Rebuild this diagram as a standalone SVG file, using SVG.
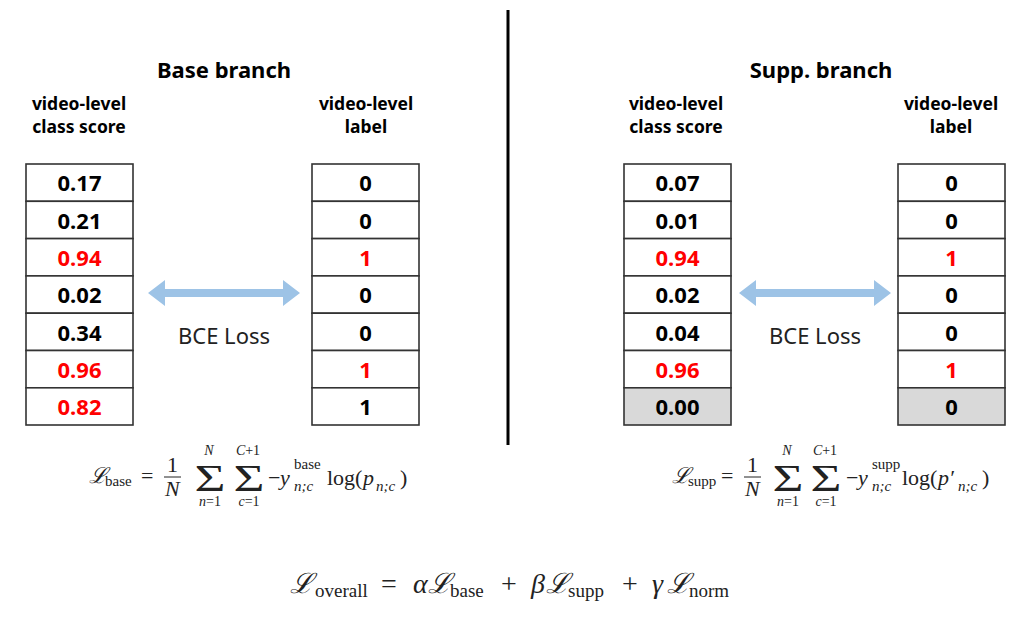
<svg xmlns="http://www.w3.org/2000/svg" width="1024" height="624" viewBox="0 0 1024 624">
<style>
.h{font-family:"Noto Sans","Open Sans",sans-serif;font-weight:bold;font-size:22px;text-anchor:middle;fill:#000}
.lab{font-family:"Noto Sans","Open Sans",sans-serif;font-weight:bold;font-size:17.5px;text-anchor:middle;fill:#000}
.num{font-family:"Noto Sans","Open Sans",sans-serif;font-weight:bold;font-size:22px;text-anchor:middle;fill:#000}
.red{fill:#ff0000}
.cell{fill:#fff;stroke:#333;stroke-width:1.6}
.gray{fill:#d9d9d9}
.bce{font-family:"Noto Sans","Open Sans",sans-serif;font-size:22px;text-anchor:middle;fill:#222}
.m{font-family:"Liberation Serif","DejaVu Serif",serif;font-size:22px;fill:#222}
.mi{font-family:"Liberation Serif","DejaVu Serif",serif;font-style:italic;font-size:22px;fill:#222}
.ms{font-family:"Liberation Serif","DejaVu Serif",serif;font-size:15px;fill:#222}
.msi{font-family:"Liberation Serif","DejaVu Serif",serif;font-style:italic;font-size:15px;fill:#222}
.lim{font-family:"Liberation Serif","DejaVu Serif",serif;font-size:14px;fill:#222;text-anchor:middle}
.sig{font-family:"Liberation Serif","DejaVu Serif",serif;font-size:38px;fill:#222;text-anchor:middle}
.big{font-family:"Liberation Serif","DejaVu Serif",serif;font-size:28px;fill:#222}
.bigi{font-family:"Liberation Serif","DejaVu Serif",serif;font-style:italic;font-size:28px;fill:#222}
.sub{font-family:"Liberation Serif","DejaVu Serif",serif;font-size:19px;fill:#222}
.arrow{fill:#9dc3e6}
</style>
<line x1="508" y1="10" x2="508" y2="445" stroke="#000" stroke-width="3"/>
<g id="base-branch">
<text class="h" x="224" y="78">Base branch</text>
<text class="lab" x="79" y="110">video-level</text>
<text class="lab" x="79" y="133">class score</text>
<text class="lab" x="366" y="110">video-level</text>
<text class="lab" x="366" y="133">label</text>
</g>
<g id="base-scores">
<rect class="cell" x="26" y="164" width="107" height="37.3"/>
<rect class="cell" x="26" y="201.3" width="107" height="37.3"/>
<rect class="cell" x="26" y="238.6" width="107" height="37.3"/>
<rect class="cell" x="26" y="275.9" width="107" height="37.3"/>
<rect class="cell" x="26" y="313.2" width="107" height="37.3"/>
<rect class="cell" x="26" y="350.5" width="107" height="37.3"/>
<rect class="cell" x="26" y="387.8" width="107" height="37.2"/>
<text class="num" x="79.5" y="191">0.17</text>
<text class="num" x="79.5" y="228.5">0.21</text>
<text class="num red" x="79.5" y="266">0.94</text>
<text class="num" x="79.5" y="303">0.02</text>
<text class="num" x="79.5" y="340.5">0.34</text>
<text class="num red" x="79.5" y="378">0.96</text>
<text class="num red" x="79.5" y="415">0.82</text>
</g>
<g id="base-labels">
<rect class="cell" x="312" y="164" width="107" height="37.3"/>
<rect class="cell" x="312" y="201.3" width="107" height="37.3"/>
<rect class="cell" x="312" y="238.6" width="107" height="37.3"/>
<rect class="cell" x="312" y="275.9" width="107" height="37.3"/>
<rect class="cell" x="312" y="313.2" width="107" height="37.3"/>
<rect class="cell" x="312" y="350.5" width="107" height="37.3"/>
<rect class="cell" x="312" y="387.8" width="107" height="37.2"/>
<text class="num" x="365.5" y="191">0</text>
<text class="num" x="365.5" y="228.5">0</text>
<text class="num red" x="365.5" y="266">1</text>
<text class="num" x="365.5" y="303">0</text>
<text class="num" x="365.5" y="340.5">0</text>
<text class="num red" x="365.5" y="378">1</text>
<text class="num" x="365.5" y="415">1</text>
</g>
<g id="connectors">
<polygon class="arrow" points="148,293 165,280 165,289 283,289 283,280 300,293 283,306 283,297 165,297 165,306"/>
<polygon class="arrow" points="739,293 756,280 756,289 874,289 874,280 891,293 874,306 874,297 756,297 756,306"/>
</g>
<text class="bce" x="224" y="344">BCE Loss</text>
<text class="bce" x="815" y="344">BCE Loss</text>
<g id="supp-branch">
<text class="h" x="821" y="78">Supp. branch</text>
<text class="lab" x="676" y="110">video-level</text>
<text class="lab" x="676" y="133">class score</text>
<text class="lab" x="951" y="110">video-level</text>
<text class="lab" x="951" y="133">label</text>
</g>
<g id="supp-scores">
<rect class="cell" x="624" y="164" width="107" height="37.3"/>
<rect class="cell" x="624" y="201.3" width="107" height="37.3"/>
<rect class="cell" x="624" y="238.6" width="107" height="37.3"/>
<rect class="cell" x="624" y="275.9" width="107" height="37.3"/>
<rect class="cell" x="624" y="313.2" width="107" height="37.3"/>
<rect class="cell" x="624" y="350.5" width="107" height="37.3"/>
<rect class="cell gray" x="624" y="387.8" width="107" height="37.2"/>
<text class="num" x="677.5" y="191">0.07</text>
<text class="num" x="677.5" y="228.5">0.01</text>
<text class="num red" x="677.5" y="266">0.94</text>
<text class="num" x="677.5" y="303">0.02</text>
<text class="num" x="677.5" y="340.5">0.04</text>
<text class="num red" x="677.5" y="378">0.96</text>
<text class="num" x="677.5" y="415">0.00</text>
</g>
<g id="supp-labels">
<rect class="cell" x="898" y="164" width="107" height="37.3"/>
<rect class="cell" x="898" y="201.3" width="107" height="37.3"/>
<rect class="cell" x="898" y="238.6" width="107" height="37.3"/>
<rect class="cell" x="898" y="275.9" width="107" height="37.3"/>
<rect class="cell" x="898" y="313.2" width="107" height="37.3"/>
<rect class="cell" x="898" y="350.5" width="107" height="37.3"/>
<rect class="cell gray" x="898" y="387.8" width="107" height="37.2"/>
<text class="num" x="951.5" y="191">0</text>
<text class="num" x="951.5" y="228.5">0</text>
<text class="num red" x="951.5" y="266">1</text>
<text class="num" x="951.5" y="303">0</text>
<text class="num" x="951.5" y="340.5">0</text>
<text class="num red" x="951.5" y="378">1</text>
<text class="num" x="951.5" y="415">0</text>
</g>
<g id="formula-base">
<text class="mi" x="89" y="483">ℒ</text>
<text class="ms" x="105" y="486">base</text>
<text class="m" x="141" y="483">=</text>
<text class="m" x="167" y="472">1</text>
<line x1="164" y1="477" x2="181" y2="477" stroke="#222" stroke-width="1"/>
<text class="mi" x="165" y="496">N</text>
<text class="sig" transform="translate(210,491) scale(1.4,1)">Σ</text>
<text class="lim" x="209" y="455" font-style="italic">N</text>
<text class="lim" x="210" y="506"><tspan font-style="italic">n</tspan>=1</text>
<text class="sig" transform="translate(249,491) scale(1.4,1)">Σ</text>
<text class="lim" x="248" y="455"><tspan font-style="italic">C</tspan>+1</text>
<text class="lim" x="249" y="506"><tspan font-style="italic">c</tspan>=1</text>
<text class="m" x="268" y="485">−</text>
<text class="mi" x="280" y="485">y</text>
<text class="ms" x="294" y="469">base</text>
<text class="msi" x="294" y="491">n;c</text>
<text class="m" x="327" y="485">log(</text>
<text class="mi" x="363" y="485">p</text>
<text class="msi" x="376" y="491">n;c</text>
<text class="m" x="400" y="485">)</text>
</g>
<g id="formula-supp">
<text class="mi" x="672" y="483">ℒ</text>
<text class="ms" x="688" y="486">supp</text>
<text class="m" x="721" y="483">=</text>
<text class="m" x="747" y="472">1</text>
<line x1="744" y1="477" x2="761" y2="477" stroke="#222" stroke-width="1"/>
<text class="mi" x="745" y="496">N</text>
<text class="sig" transform="translate(788,491) scale(1.4,1)">Σ</text>
<text class="lim" x="787" y="455" font-style="italic">N</text>
<text class="lim" x="788" y="506"><tspan font-style="italic">n</tspan>=1</text>
<text class="sig" transform="translate(826,491) scale(1.4,1)">Σ</text>
<text class="lim" x="825" y="455"><tspan font-style="italic">C</tspan>+1</text>
<text class="lim" x="826" y="506"><tspan font-style="italic">c</tspan>=1</text>
<text class="m" x="846" y="485">−</text>
<text class="mi" x="858" y="485">y</text>
<text class="ms" x="872" y="469">supp</text>
<text class="msi" x="872" y="491">n;c</text>
<text class="m" x="902" y="485">log(</text>
<text class="mi" x="938" y="485">p′</text>
<text class="msi" x="958" y="491">n;c</text>
<text class="m" x="982" y="485">)</text>
</g>
<g id="formula-overall">
<text class="bigi" x="290" y="593">ℒ</text>
<text class="sub" x="315" y="597">overall</text>
<text class="big" x="381" y="593">=</text>
<text class="bigi" x="413" y="593">α</text>
<text class="bigi" x="428" y="593">ℒ</text>
<text class="sub" x="450" y="597">base</text>
<text class="big" x="501" y="593">+</text>
<text class="bigi" x="531" y="593">β</text>
<text class="bigi" x="546" y="593">ℒ</text>
<text class="sub" x="568" y="597">supp</text>
<text class="big" x="622" y="593">+</text>
<text class="bigi" x="652" y="593">γ</text>
<text class="bigi" x="667" y="593">ℒ</text>
<text class="sub" x="689" y="597">norm</text>
</g>
</svg>
